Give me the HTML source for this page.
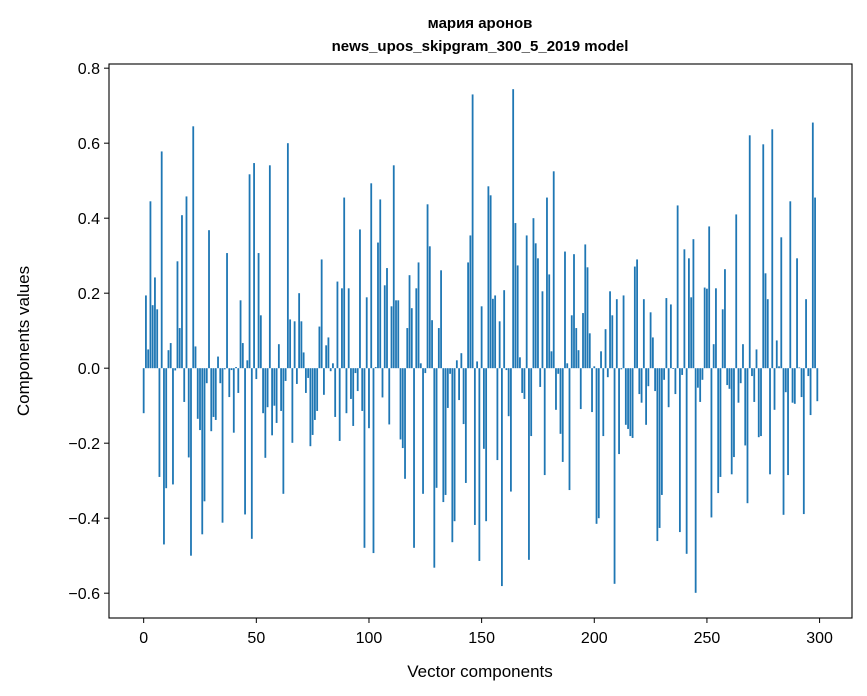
<!DOCTYPE html>
<html><head><meta charset="utf-8"><style>
body{margin:0;background:#fff;}
svg{display:block;font-family:"Liberation Sans","DejaVu Sans",sans-serif;}
</style></head><body>
<svg id="chart" width="867" height="696" viewBox="0 0 867 696" xmlns="http://www.w3.org/2000/svg">
<rect width="867" height="696" fill="#fff"/>
<text x="480" y="28" text-anchor="middle" font-size="15" font-weight="bold">мария аронов</text>
<text x="480" y="51" text-anchor="middle" font-size="15" font-weight="bold">news_upos_skipgram_300_5_2019 model</text>
<g id="bars"></g>
<g id="xticks"></g>
<g id="yticks"></g>
<rect x="109" y="64" width="743" height="554" fill="none" stroke="#000" stroke-width="1.1"/>
<text x="480" y="677" text-anchor="middle" font-size="17">Vector components</text>
<text transform="translate(29,341) rotate(-90)" text-anchor="middle" font-size="17">Components values</text>
</svg>
<script>
const values = [
-0.12,0.194,0.05,0.445,0.168,0.242,0.157,-0.29,0.578,-0.47,
-0.32,0.048,0.067,-0.31,-0.006,0.285,0.107,0.408,-0.09,0.458,
-0.238,-0.5,0.645,0.058,-0.135,-0.165,-0.443,-0.355,-0.04,0.368,
-0.168,-0.13,-0.138,0.031,-0.04,-0.412,-0.003,0.307,-0.077,-0.005,
-0.172,0.003,-0.066,0.181,0.067,-0.39,0.021,0.517,-0.455,0.547,
-0.029,0.307,0.141,-0.12,-0.239,-0.104,0.541,-0.179,-0.10,-0.146,
0.064,-0.114,-0.335,-0.034,0.6,0.13,-0.199,0.125,-0.042,0.2,
0.125,0.042,-0.066,-0.026,-0.208,-0.178,-0.138,-0.114,0.111,0.29,
-0.071,0.061,0.082,-0.008,0.013,-0.13,0.231,-0.194,0.213,0.455,
-0.12,0.213,-0.082,-0.154,-0.013,-0.061,0.37,-0.114,-0.479,0.189,
-0.16,0.493,-0.493,0.003,0.335,0.45,-0.078,0.221,0.267,-0.15,
0.165,0.541,0.181,0.181,-0.19,-0.213,-0.295,0.107,0.248,0.16,
-0.479,0.213,0.282,0.013,-0.335,-0.013,0.437,0.325,0.128,-0.532,
-0.319,0.107,0.261,-0.357,-0.338,-0.106,-0.015,-0.464,-0.408,0.021,
-0.085,0.04,-0.149,-0.306,0.282,0.354,0.73,-0.418,0.018,-0.514,
0.165,-0.215,-0.408,0.485,0.461,0.185,0.194,-0.245,0.125,-0.581,
0.208,-0.005,-0.128,-0.329,0.744,0.387,0.274,0.029,-0.066,-0.082,
0.354,-0.511,-0.181,0.4,0.333,0.293,-0.05,0.205,-0.285,0.455,
0.25,0.045,0.525,-0.111,-0.015,-0.175,-0.25,0.311,0.013,-0.325,
0.141,0.304,0.107,0.048,-0.109,0.147,0.33,0.269,0.093,-0.117,
0.005,-0.415,-0.4,0.045,-0.181,0.104,-0.024,0.205,0.141,-0.575,
0.184,-0.229,-0.003,0.194,-0.151,-0.162,-0.181,-0.186,0.271,0.29,
-0.069,-0.092,0.184,-0.151,-0.048,0.149,0.082,-0.061,-0.461,-0.426,
-0.338,-0.031,0.187,-0.104,0.17,-0.002,-0.069,0.434,-0.437,-0.018,
0.317,-0.495,0.293,0.189,0.344,-0.599,-0.052,-0.09,-0.031,0.215,
0.212,0.378,-0.398,0.064,0.213,-0.333,-0.29,0.157,0.264,-0.045,
-0.055,-0.283,-0.237,0.41,-0.092,-0.04,0.064,-0.206,-0.36,0.621,
-0.021,-0.09,0.05,-0.184,-0.181,0.597,0.253,0.184,-0.283,0.637,
-0.111,0.074,0.005,0.349,-0.391,-0.064,-0.285,0.445,-0.092,-0.095,
0.293,0.002,-0.077,-0.389,0.184,-0.021,-0.125,0.655,0.455,-0.088
];
const xTickLabels = [0,50,100,150,200,250,300];
const yTickLabels = [-0.6,-0.4,-0.2,0.0,0.2,0.4,0.6,0.8];

const NS = "http://www.w3.org/2000/svg";
const L=109, R=852, T=64, B=618;
const n = values.length;
const x0 = -0.4 - 0.05*(n-0.2), x1 = (n-1)+0.4 + 0.05*(n-0.2);
let vmin = Math.min(0, ...values), vmax = Math.max(0, ...values);
const pad = (vmax - vmin)*0.05;
const y0 = vmin - pad, y1 = vmax + pad;
function xs(v){ return L + (v - x0)/(x1 - x0)*(R-L); }
function ys(v){ return B - (v - y0)/(y1 - y0)*(B-T); }

const gb = document.getElementById('bars');
values.forEach((v,i)=>{
  const r = document.createElementNS(NS,'rect');
  
  
  const a = xs(i-0.4), b = xs(i+0.4);
  r.setAttribute('x', a); r.setAttribute('width', b-a);
  const ya = ys(Math.max(v,0)), yb = ys(Math.min(v,0));
  r.setAttribute('y', ya); r.setAttribute('height', Math.max(yb-ya,0.01));
  r.setAttribute('fill', '#1f77b4');
  gb.appendChild(r);
});

const gx = document.getElementById('xticks');
xTickLabels.forEach(t=>{
  const X = xs(t);
  const ln = document.createElementNS(NS,'line');
  
  
  ln.setAttribute('x1',X); ln.setAttribute('x2',X); ln.setAttribute('y1',B); ln.setAttribute('y2',B+5);
  ln.setAttribute('stroke','#000');
  gx.appendChild(ln);
  const tx = document.createElementNS(NS,'text');
  
  
  tx.setAttribute('x',X); tx.setAttribute('y',B+25); tx.setAttribute('text-anchor','middle'); tx.setAttribute('font-size','16');
  tx.textContent = String(t);
  gx.appendChild(tx);
});

const gy = document.getElementById('yticks');
yTickLabels.forEach(t=>{
  const Y = ys(t);
  const ln = document.createElementNS(NS,'line');
  
  
  ln.setAttribute('x1',L-5); ln.setAttribute('x2',L); ln.setAttribute('y1',Y); ln.setAttribute('y2',Y);
  ln.setAttribute('stroke','#000');
  gy.appendChild(ln);
  const tx = document.createElementNS(NS,'text');
  
  
  tx.setAttribute('x',L-9); tx.setAttribute('y',Y+6); tx.setAttribute('text-anchor','end'); tx.setAttribute('font-size','16');
  tx.textContent = (t<0?'\u2212':'') + Math.abs(t).toFixed(1);
  gy.appendChild(tx);
});
</script>
</body></html>
